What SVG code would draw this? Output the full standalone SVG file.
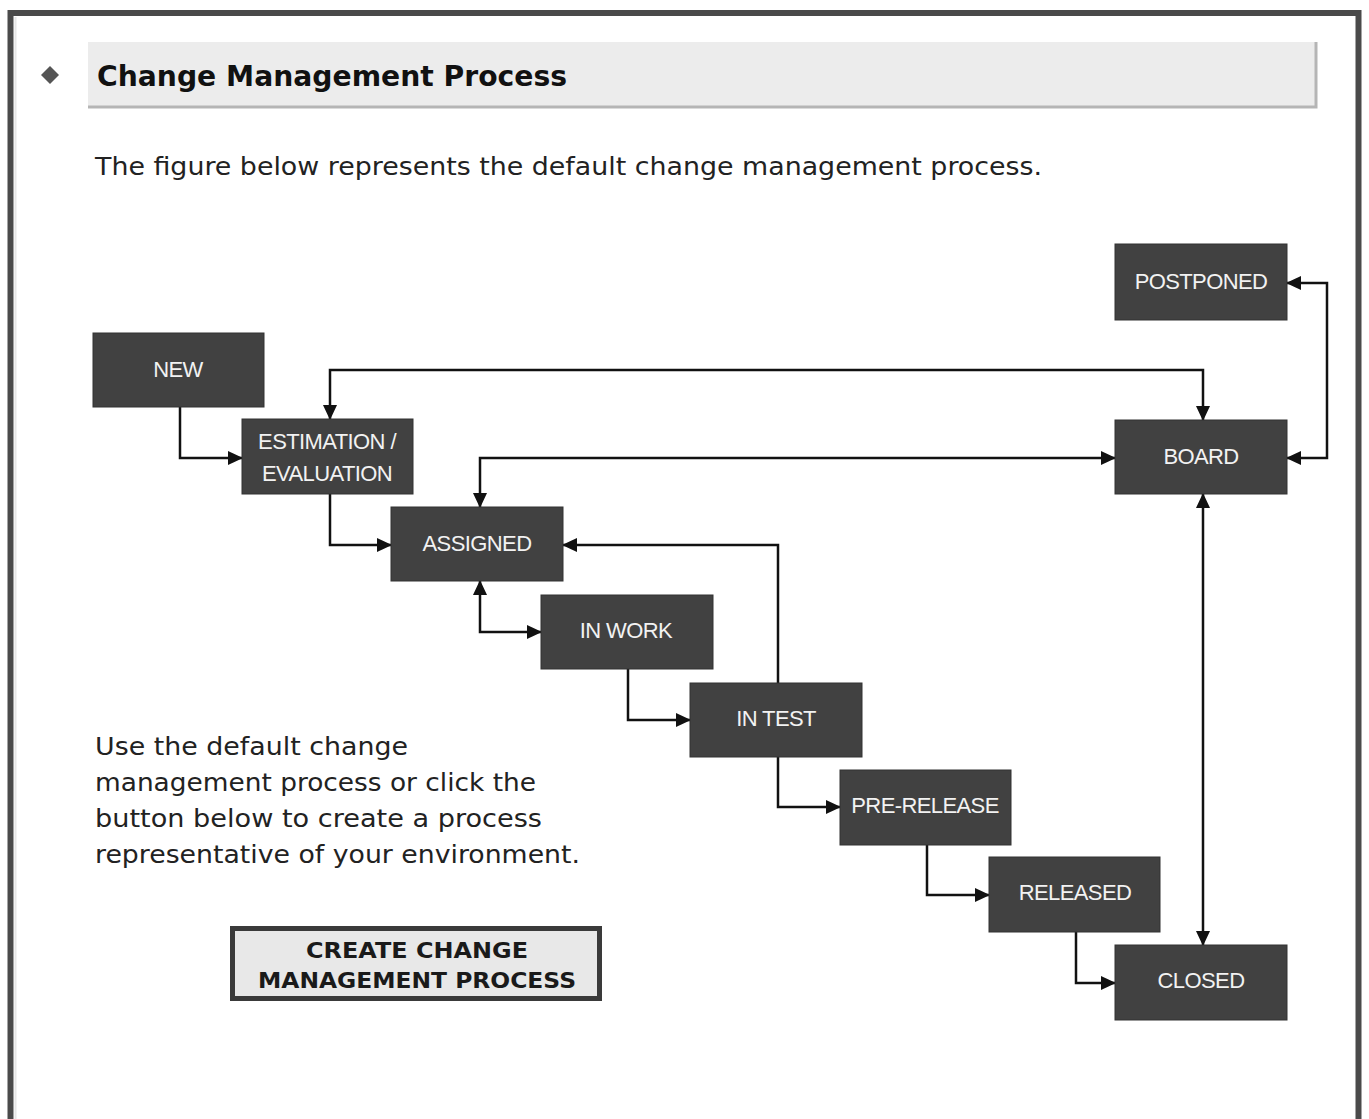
<svg xmlns="http://www.w3.org/2000/svg" width="1369" height="1119" viewBox="0 0 1369 1119">
<defs>
<style>
.node rect{fill:#414141;stroke:#333;stroke-width:1}
.node text{fill:#f2f2f2;font-family:"Liberation Sans",Arial,sans-serif;font-size:22px;text-anchor:middle;letter-spacing:-0.6px}
.conn path{fill:none;stroke:#111;stroke-width:2.5}
.body{font-family:"DejaVu Sans",Verdana,sans-serif;fill:#222}
</style>
<marker id="ah" viewBox="0 0 15 14" refX="14" refY="7" markerWidth="15" markerHeight="14" markerUnits="userSpaceOnUse" orient="auto-start-reverse">
<path d="M0,0 L15,7 L0,14 Z" fill="#111"/>
</marker>
</defs>
<rect x="0" y="0" width="1369" height="1119" fill="#ffffff"/>
<!-- frame -->
<path d="M10.5,1119 V13 H1358.5 V1119" fill="none" stroke="#4a4a4a" stroke-width="6"/>
<line x1="15.5" y1="17" x2="15.5" y2="1119" stroke="#e6e6e6" stroke-width="2"/>
<!-- header -->
<g id="header">
<rect x="88" y="42" width="1228" height="66" fill="#ececec"/>
<path d="M88,107 H1316 V42" fill="none" stroke="#b5b5b5" stroke-width="3"/>
<path d="M50,66 L59,75 L50,84 L41,75 Z" fill="#555"/>
<text x="97" y="86" font-family="'DejaVu Sans',sans-serif" font-weight="bold" font-size="28" fill="#111" textLength="470" lengthAdjust="spacingAndGlyphs">Change Management Process</text>
</g>
<text class="body" x="95" y="175" font-size="24" textLength="947" lengthAdjust="spacingAndGlyphs">The figure below represents the default change management process.</text>
<!-- connectors -->
<g id="connectors" class="conn">
<path d="M180,407 V458 H242" marker-end="url(#ah)"/>
<path d="M330,494 V545 H391" marker-end="url(#ah)"/>
<path d="M330,419 V370 H1203 V420" marker-start="url(#ah)" marker-end="url(#ah)"/>
<path d="M480,507 V458 H1115" marker-start="url(#ah)" marker-end="url(#ah)"/>
<path d="M778,683 V545 H563" marker-end="url(#ah)"/>
<path d="M480,581 V632 H541" marker-start="url(#ah)" marker-end="url(#ah)"/>
<path d="M628,669 V720 H690" marker-end="url(#ah)"/>
<path d="M778,757 V807 H840" marker-end="url(#ah)"/>
<path d="M927,845 V895 H989" marker-end="url(#ah)"/>
<path d="M1076,932 V983 H1115" marker-end="url(#ah)"/>
<path d="M1203,494 V945" marker-start="url(#ah)" marker-end="url(#ah)"/>
<path d="M1287,283 H1327 V458 H1287" marker-start="url(#ah)" marker-end="url(#ah)"/>
</g>
<!-- nodes -->
<g id="postponed" class="node"><rect x="1115" y="244" width="172" height="76"/><text x="1201" y="289">POSTPONED</text></g>
<g id="new" class="node"><rect x="93" y="333" width="171" height="74"/><text x="178" y="377">NEW</text></g>
<g id="estimation" class="node"><rect x="242" y="419" width="171" height="75"/><text x="327" y="449">ESTIMATION /</text><text x="327" y="481">EVALUATION</text></g>
<g id="board" class="node"><rect x="1115" y="420" width="172" height="74"/><text x="1201" y="464">BOARD</text></g>
<g id="assigned" class="node"><rect x="391" y="507" width="172" height="74"/><text x="477" y="551">ASSIGNED</text></g>
<g id="inwork" class="node"><rect x="541" y="595" width="172" height="74"/><text x="626" y="638">IN WORK</text></g>
<g id="intest" class="node"><rect x="690" y="683" width="172" height="74"/><text x="776" y="726">IN TEST</text></g>
<g id="prerelease" class="node"><rect x="840" y="770" width="171" height="75"/><text x="925" y="813">PRE-RELEASE</text></g>
<g id="released" class="node"><rect x="989" y="857" width="171" height="75"/><text x="1075" y="900">RELEASED</text></g>
<g id="closed" class="node"><rect x="1115" y="945" width="172" height="75"/><text x="1201" y="988">CLOSED</text></g>
<!-- left text -->
<g class="body" font-size="25">
<text x="95" y="755" textLength="313" lengthAdjust="spacingAndGlyphs">Use the default change</text>
<text x="95" y="791" textLength="441" lengthAdjust="spacingAndGlyphs">management process or click the</text>
<text x="95" y="827" textLength="447" lengthAdjust="spacingAndGlyphs">button below to create a process</text>
<text x="95" y="863" textLength="485" lengthAdjust="spacingAndGlyphs">representative of your environment.</text>
</g>
<!-- button -->
<g id="button">
<rect x="232.5" y="928.5" width="367" height="70" fill="#e8e8e8" stroke="#3a3a3a" stroke-width="5"/>
<text x="417" y="958" font-family="'DejaVu Sans',Verdana,sans-serif" font-weight="bold" font-size="21" fill="#1a1a1a" text-anchor="middle" textLength="222" lengthAdjust="spacingAndGlyphs">CREATE CHANGE</text>
<text x="417" y="988" font-family="'DejaVu Sans',Verdana,sans-serif" font-weight="bold" font-size="21" fill="#1a1a1a" text-anchor="middle" textLength="318" lengthAdjust="spacingAndGlyphs">MANAGEMENT PROCESS</text>
</g>
</svg>
